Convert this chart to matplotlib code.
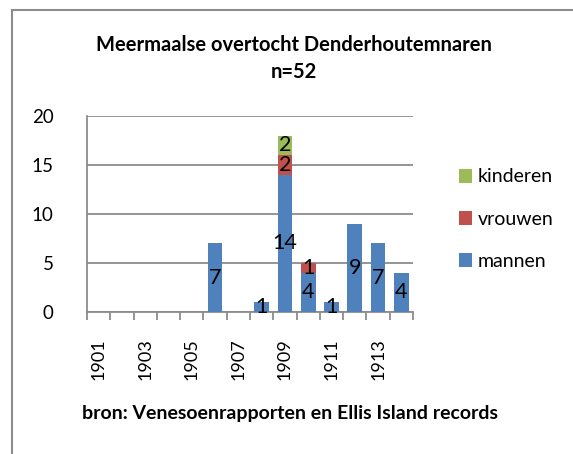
import matplotlib
matplotlib.use("Agg")
import matplotlib.pyplot as plt
import numpy as np
from matplotlib.patches import Rectangle

years = ["1901", "1902", "1903", "1904", "1905", "1906", "1907",
         "1908", "1909", "1910", "1911", "1912", "1913", "1914"]
mannen = [0, 0, 0, 0, 0, 7, 0, 1, 14, 4, 1, 9, 7, 4]
vrouwen = [0, 0, 0, 0, 0, 0, 0, 0, 2, 1, 0, 0, 0, 0]
kinderen = [0, 0, 0, 0, 0, 0, 0, 0, 2, 0, 0, 0, 0, 0]
series_names = ["mannen", "vrouwen", "kinderen"]
colors = ["#4F81BD", "#C0504D", "#9BBB59"]

plt.rcParams['font.family'] = ['Lato', 'DejaVu Sans']

W, H = 573, 454
fig = plt.figure(figsize=(W / 100, H / 100), dpi=100)

# outer chart frame
fig.add_artist(Rectangle((12 / W, -0.1), 1.2, (H - 10) / H + 0.1,
                         transform=fig.transFigure, fill=False,
                         edgecolor="#8c8c8c", linewidth=1.5))

ax = fig.add_axes([87 / W, 1 - 312 / H, (413 - 87) / W, (312 - 116) / H])
x = np.arange(len(years))
bw = 0.63
bottom = np.zeros(len(years))
handles = []
for name, vals, col in zip(series_names, [mannen, vrouwen, kinderen], colors):
    vals = np.array(vals, dtype=float)
    b = ax.bar(x, vals, bw, bottom=bottom, color=col, label=name, zorder=3)
    handles.append(b)
    for xi, v, bt in zip(x, vals, bottom):
        if v > 0:
            ax.text(xi, bt + v / 2, f"{int(v)}", ha="center", va="center",
                    fontsize=15.5, color="black", zorder=4)
    bottom += vals

ax.set_xlim(-0.5, len(years) - 0.5)
ax.set_ylim(0, 20)
ax.set_yticks([0, 5, 10, 15, 20])
ax.yaxis.grid(True, color="#8c8c8c", linewidth=1.3, zorder=0)
ax.set_axisbelow(True)
for s in ["top", "right"]:
    ax.spines[s].set_visible(False)
for s in ["left", "bottom"]:
    ax.spines[s].set_color("#8c8c8c")
    ax.spines[s].set_linewidth(1.3)
ax.tick_params(axis="y", length=0, labelsize=13.5, pad=24)
ax.set_xticks(x[::2])
ax.set_xticklabels(years[::2], rotation=90, fontsize=13)
ax.set_xticks(np.arange(-0.5, len(years), 1.0), minor=True)
ax.tick_params(axis="x", which="major", length=0, pad=19)
ax.tick_params(axis="x", which="minor", length=6, width=1.3, color="#8c8c8c",
               direction="out")

# legend (reverse order)
leg = fig.legend([handles[2], handles[1], handles[0]],
                 ["kinderen", "vrouwen", "mannen"],
                 loc="upper left", bbox_to_anchor=(441 / W, 1 - 151 / H),
                 frameon=False, fontsize=14, handlelength=0.7,
                 handleheight=0.7, handletextpad=0.3, labelspacing=1.3)

fig.text(294 / W, 1 - 45 / H, "Meermaalse overtocht Denderhoutemnaren",
         ha="center", va="center", fontsize=14.5, fontweight="bold")
fig.text(294 / W, 1 - 72 / H, "n=52", ha="center", va="center",
         fontsize=14.5, fontweight="bold")
fig.text(290 / W, 1 - 413 / H, "bron: Venesoenrapporten en Ellis Island records",
         ha="center", va="center", fontsize=14, fontweight="bold")

fig.savefig("out.png", dpi=100)
